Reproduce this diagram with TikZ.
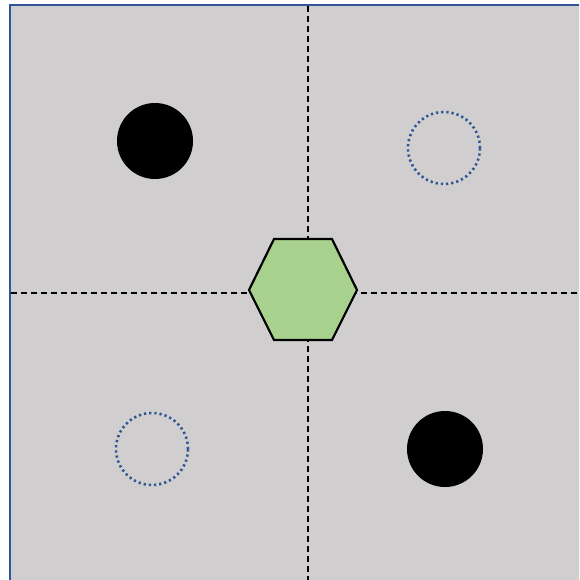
\documentclass[tikz,border=0pt]{standalone}
\usetikzlibrary{positioning}
\definecolor{panel}{HTML}{D0CECE}
\definecolor{frame}{HTML}{2F5597}
\definecolor{hexfill}{HTML}{A9D18E}
\tikzset{
	full/.style={circle, fill=black, minimum size=76pt, inner sep=0pt},
	empty/.style={circle, draw=frame, line width=2.6pt, dash pattern=on 2.2pt off 3pt, minimum size=72pt, inner sep=0pt},
	axis/.style={black, line width=1.6pt, dash pattern=on 6pt off 4pt}
}
\begin{document}
\begin{tikzpicture}[x=1pt, y=-1pt]
	\useasboundingbox (0,0) rectangle (579,580);
	\begin{scope}
		\clip (0,0) rectangle (579,580);
		\draw[frame, line width=2.6pt, fill=panel] (10,5) rectangle (582,582);
	\end{scope}

	% quadrant axes
	\coordinate (top) at (308,6);
	\coordinate (bottom) at (308,580);
	\coordinate (left) at (11,293);
	\coordinate (right) at (579,293);
	\draw[axis] (top) -- (bottom);
	\draw[axis] (left) -- (right);

	% particles
	\node[full] (a) at (155,141) {};
	\node[full] (b) at (445,449) {};
	\node[empty] (c) at (444,148) {};
	\node[empty] (d) at (152,449) {};

	% centre hexagon
	\draw[black, line width=2.2pt, fill=hexfill, line join=miter]
		(249,290) -- (274,239) -- (332,239) -- (357,290) -- (332,340) -- (274,340) -- cycle;
\end{tikzpicture}
\end{document}
